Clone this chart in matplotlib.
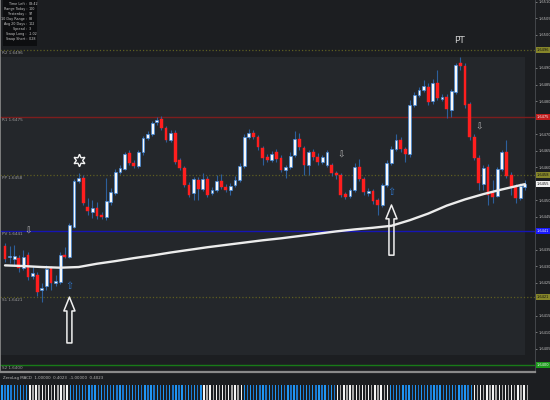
import matplotlib
matplotlib.use('Agg')
import matplotlib.pyplot as plt
import matplotlib.transforms as mtransforms
from matplotlib.patches import Rectangle
import numpy as np

plt.rcParams['font.family'] = ['DejaVu Sans']

# -------------------- 行情数据 (M15 K线) --------------------
OPEN = [1.64361, 1.64327, 1.64321, 1.64324, 1.64294, 1.64333, 1.64270, 1.64273, 1.64227, 1.64239,
        1.64294, 1.64248, 1.64252, 1.64333, 1.64327, 1.64418, 1.64558, 1.64567, 1.64479, 1.64464,
        1.64476, 1.64455, 1.64448, 1.64494, 1.64521, 1.64585, 1.64594, 1.64642, 1.64612, 1.64603,
        1.64645, 1.64688, 1.64700, 1.64736, 1.64745, 1.64718, 1.64682, 1.64703, 1.64621, 1.64597,
        1.64545, 1.64521, 1.64561, 1.64533, 1.64564, 1.64521, 1.64530, 1.64558, 1.64539, 1.64530,
        1.64545, 1.64561, 1.64603, 1.64691, 1.64703, 1.64691, 1.64658, 1.64630, 1.64621, 1.64645,
        1.64627, 1.64591, 1.64600, 1.64636, 1.64685, 1.64658, 1.64606, 1.64645, 1.64630, 1.64615,
        1.64606, 1.64606, 1.64582, 1.64576, 1.64518, 1.64512, 1.64530, 1.64600, 1.64564, 1.64521,
        1.64527, 1.64500, 1.64485, 1.64545, 1.64612, 1.64655, 1.64682, 1.64655, 1.64639, 1.64788,
        1.64818, 1.64833, 1.64842, 1.64800, 1.64855, 1.64806, 1.64812, 1.64773, 1.64827, 1.64915,
        1.64906, 1.64791, 1.64691, 1.64627, 1.64548, 1.64600, 1.64521, 1.64512, 1.64594, 1.64645,
        1.64576, 1.64539, 1.64506, 1.64539]
HIGH = [1.64370, 1.64361, 1.64364, 1.64333, 1.64348, 1.64342, 1.64300, 1.64282, 1.64248, 1.64303,
        1.64300, 1.64273, 1.64342, 1.64358, 1.64430, 1.64564, 1.64582, 1.64576, 1.64506, 1.64500,
        1.64494, 1.64464, 1.64567, 1.64536, 1.64594, 1.64606, 1.64645, 1.64652, 1.64621, 1.64652,
        1.64694, 1.64709, 1.64739, 1.64752, 1.64755, 1.64724, 1.64712, 1.64712, 1.64627, 1.64603,
        1.64555, 1.64570, 1.64570, 1.64582, 1.64573, 1.64539, 1.64576, 1.64579, 1.64548, 1.64552,
        1.64573, 1.64612, 1.64700, 1.64715, 1.64712, 1.64697, 1.64664, 1.64639, 1.64648, 1.64655,
        1.64636, 1.64606, 1.64645, 1.64709, 1.64703, 1.64664, 1.64652, 1.64655, 1.64642, 1.64636,
        1.64652, 1.64612, 1.64588, 1.64582, 1.64524, 1.64536, 1.64612, 1.64624, 1.64570, 1.64536,
        1.64533, 1.64506, 1.64552, 1.64621, 1.64664, 1.64700, 1.64691, 1.64661, 1.64803, 1.64827,
        1.64842, 1.64864, 1.64855, 1.64867, 1.64894, 1.64821, 1.64821, 1.64836, 1.64915, 1.64933,
        1.64915, 1.64797, 1.64700, 1.64636, 1.64606, 1.64609, 1.64561, 1.64600, 1.64652, 1.64682,
        1.64585, 1.64548, 1.64552, 1.64561]
LOW = [1.64312, 1.64309, 1.64300, 1.64282, 1.64288, 1.64258, 1.64261, 1.64209, 1.64191, 1.64227,
       1.64227, 1.64239, 1.64245, 1.64324, 1.64324, 1.64415, 1.64552, 1.64485, 1.64455, 1.64445,
       1.64442, 1.64442, 1.64439, 1.64485, 1.64515, 1.64579, 1.64591, 1.64606, 1.64597, 1.64597,
       1.64636, 1.64682, 1.64694, 1.64727, 1.64712, 1.64676, 1.64676, 1.64609, 1.64591, 1.64539,
       1.64509, 1.64500, 1.64500, 1.64527, 1.64509, 1.64515, 1.64524, 1.64533, 1.64524, 1.64515,
       1.64539, 1.64555, 1.64597, 1.64685, 1.64685, 1.64652, 1.64606, 1.64615, 1.64615, 1.64615,
       1.64585, 1.64567, 1.64594, 1.64630, 1.64652, 1.64576, 1.64576, 1.64621, 1.64606, 1.64609,
       1.64600, 1.64573, 1.64564, 1.64509, 1.64503, 1.64506, 1.64524, 1.64558, 1.64515, 1.64512,
       1.64488, 1.64455, 1.64479, 1.64539, 1.64606, 1.64648, 1.64645, 1.64615, 1.64630, 1.64782,
       1.64812, 1.64827, 1.64788, 1.64791, 1.64803, 1.64800, 1.64748, 1.64752, 1.64821, 1.64894,
       1.64779, 1.64682, 1.64621, 1.64530, 1.64530, 1.64485, 1.64491, 1.64509, 1.64588, 1.64567,
       1.64515, 1.64491, 1.64500, 1.64530]
CLOSE = [1.64321, 1.64330, 1.64330, 1.64294, 1.64327, 1.64267, 1.64279, 1.64221, 1.64233, 1.64291,
         1.64248, 1.64255, 1.64333, 1.64327, 1.64424, 1.64558, 1.64567, 1.64491, 1.64467, 1.64476,
         1.64452, 1.64448, 1.64497, 1.64524, 1.64585, 1.64597, 1.64639, 1.64612, 1.64603, 1.64645,
         1.64688, 1.64700, 1.64733, 1.64742, 1.64718, 1.64682, 1.64703, 1.64615, 1.64597, 1.64545,
         1.64515, 1.64564, 1.64533, 1.64564, 1.64515, 1.64530, 1.64558, 1.64539, 1.64530, 1.64542,
         1.64561, 1.64603, 1.64691, 1.64703, 1.64691, 1.64661, 1.64627, 1.64621, 1.64639, 1.64624,
         1.64591, 1.64600, 1.64633, 1.64685, 1.64661, 1.64606, 1.64645, 1.64630, 1.64615, 1.64630,
         1.64645, 1.64582, 1.64576, 1.64515, 1.64509, 1.64530, 1.64600, 1.64564, 1.64524, 1.64527,
         1.64497, 1.64485, 1.64545, 1.64612, 1.64655, 1.64682, 1.64655, 1.64639, 1.64788, 1.64818,
         1.64833, 1.64845, 1.64797, 1.64855, 1.64809, 1.64812, 1.64776, 1.64830, 1.64909, 1.64906,
         1.64788, 1.64691, 1.64627, 1.64552, 1.64597, 1.64515, 1.64509, 1.64594, 1.64645, 1.64573,
         1.64539, 1.64506, 1.64542, 1.64548]

# 均线 (按K线序号取样)
MA_IDX = [0, 4, 8, 12, 16, 20, 24, 28, 32, 36, 40, 44, 48, 52, 56, 60, 64, 68, 72, 76,
          80, 84, 88, 92, 96, 100, 104, 108, 112, 113]
MA_VAL = [1.64302, 1.64300, 1.64297, 1.64295, 1.64297, 1.64307, 1.64315, 1.64324, 1.64332, 1.64341,
          1.64349, 1.64357, 1.64364, 1.64371, 1.64378, 1.64384, 1.64391, 1.64398, 1.64405, 1.64411,
          1.64416, 1.64422, 1.64439, 1.64459, 1.64483, 1.64502, 1.64518, 1.64532, 1.64545, 1.64548]

# 枢轴位
LEVEL_NAMES = ['R2', 'R1', 'PP', 'PV', 'S1', 'S2']
LEVEL_PRICES = [1.64955, 1.64752, 1.64576, 1.64406, 1.64206, 1.64000]
LEVEL_COLORS = ['#5e5e22', '#7c1d1d', '#5e5e22', '#1515b5', '#5e5e22', '#187a18']
LEVEL_BOX = ['#86862a', '#c21c1c', '#86862a', '#1a1aff', '#86862a', '#1c9a1c']
LEVEL_STYLE = ['dotted', 'solid', 'dotted', 'solid', 'dotted', 'solid']

# 信号
UP_IDX = [14, 84]
UP_SMALL = [1.64239, 1.64524]
UP_TIP = [1.64206, 1.64485]
UP_BASE = [1.64067, 1.64333]
DN_IDX = [5, 73, 103]
DN_PRICE = [1.64406, 1.64636, 1.64721]
STAR_IDX = 16

# 右侧价格刻度
PRICE_TICKS = [1.6400, 1.6405, 1.6410, 1.6415, 1.6420, 1.6425, 1.6430, 1.6435, 1.6440, 1.6445,
               1.6450, 1.6455, 1.6460, 1.6465, 1.6470, 1.6475, 1.6480, 1.6485, 1.6490, 1.6495,
               1.6500, 1.6505, 1.6510]

# 左上角信息框
INFO_LABELS = ['Time Left', 'Range Today', 'Yesterday', '10 Day Range', 'Avg 20 Days',
               'Spread', 'Swap Long', 'Swap Short']
INFO_VALUES = ['08:42', '100', '97', '88', '102', '3', '-1.02', '0.28']

# 底部指标 (连续段)
IND_STATE = ['up', 'dn', 'up', 'dn', 'up', 'dn', 'up', 'dn']
IND_RUNS = [9, 13, 43, 13, 30, 17, 27, 18]

BG = '#1c1e21'
PANEL = '#24272b'
WICK = '#2d5f9c'
FS_AXIS = 2.6

fig = plt.figure(figsize=(5.5, 4), dpi=100, facecolor=BG)
ax = fig.add_axes([0, 0.07, 535 / 550, 0.93])
ax.set_facecolor(BG)
ax.add_patch(Rectangle((0, 17 / 372), 525 / 535, 298 / 372, transform=ax.transAxes,
                       fc=PANEL, ec='none', zorder=0))

o = np.array(OPEN)
h = np.array(HIGH)
l = np.array(LOW)
c = np.array(CLOSE)
x = np.arange(len(o))
bull = c >= o
body_lo = np.minimum(o, c)
body_h = np.maximum(np.abs(c - o), 0.00003)

# 均线
ax.plot(MA_IDX, MA_VAL, color='#ececec', lw=1.7, solid_capstyle='round', zorder=4)

# 水平位
blend = mtransforms.blended_transform_factory(ax.transAxes, ax.transData)
box_prices = list(LEVEL_PRICES) + [c[-1]]
for name, p, col, box, ls in zip(LEVEL_NAMES, LEVEL_PRICES, LEVEL_COLORS, LEVEL_BOX, LEVEL_STYLE):
    ax.axhline(p, color=col, lw=1.0 if ls == 'solid' else 0.9, ls=ls, zorder=1)
    ax.annotate(f'{name} {p:.4f}', xy=(0.004, p), xycoords=blend, xytext=(0, -0.8),
                textcoords='offset points', va='top', ha='left', fontsize=3.0, color='#9c9c9c')
    ax.text(1.004, p, f'{p:.4f}', transform=blend, fontsize=FS_AXIS, va='center', ha='left',
            color='#111111' if box == '#86862a' else '#f0f0f0', clip_on=False, zorder=6,
            bbox=dict(boxstyle='square,pad=0.25', fc=box, ec='none'))

# 当前价
ax.text(1.004, c[-1], f'{c[-1]:.4f}', transform=blend, fontsize=FS_AXIS, va='center', ha='left',
        color='#111111', clip_on=False, zorder=7,
        bbox=dict(boxstyle='square,pad=0.25', fc='#f2f2f2', ec='none'))

# K线
ax.vlines(x, l, h, color=WICK, lw=0.8, zorder=2)
ax.bar(x[bull], body_h[bull], bottom=body_lo[bull], width=0.62, color='#f7f7f7',
       edgecolor='#3f86d9', linewidth=0.5, zorder=3)
ax.bar(x[~bull], body_h[~bull], bottom=body_lo[~bull], width=0.62, color='#ff1e1e',
       edgecolor='#ff1e1e', linewidth=0.3, zorder=3)

# 信号箭头
for i, ps, pt, pb in zip(UP_IDX, UP_SMALL, UP_TIP, UP_BASE):
    ax.text(i, ps, '\u21e7', fontsize=7, color='#2f75c8', ha='center', va='center', zorder=5)
    ax.annotate('', xy=(i, pt), xytext=(i, pb),
                arrowprops=dict(arrowstyle='simple,head_length=1.0,head_width=0.8,tail_width=0.36',
                                fc='none', ec='#f0f0f0', lw=1.1, shrinkA=0, shrinkB=0,
                                mutation_scale=10), zorder=5)
for i, p in zip(DN_IDX, DN_PRICE):
    ax.text(i, p, '\u21e9', fontsize=6.5, color='#b4b4b4', ha='center', va='center', zorder=5)

star_tf = ax.transData + mtransforms.ScaledTranslation(0, 9 / 72, fig.dpi_scale_trans)
ax.plot([STAR_IDX], [h[STAR_IDX]], marker=(6, 1, 0), ms=9, mfc=PANEL, mec='#f2f2f2',
        mew=1.0, transform=star_tf, zorder=5)

pk = int(np.argmax(h))
ax.annotate('PT', xy=(pk, h[pk]), xytext=(-1, 12), textcoords='offset points',
            ha='center', va='center', fontsize=6.5, color='#d2d2d2')

ax.set_xlim(-1.087, 115.2)
ax.set_ylim(1.63979, 1.65106)
ax.set_xticks([])
ax.yaxis.tick_right()
# 被价位框挡住的刻度不写
ticks = [t for t in PRICE_TICKS if min(abs(t - b) for b in box_prices) > 0.00022]
ax.set_yticks(ticks)
ax.set_yticklabels([f'{t:.4f}' for t in ticks])
ax.tick_params(axis='y', labelsize=FS_AXIS, colors='#bdbdbd', length=1.5, width=0.4, pad=0.8)
ax.spines['top'].set_visible(False)
ax.spines['left'].set_color('#8c8c8c')
ax.spines['left'].set_linewidth(1.2)
ax.spines['right'].set_color('#4a4d52')
ax.spines['right'].set_linewidth(0.6)
ax.spines['bottom'].set_color('#8a8a8a')
ax.spines['bottom'].set_linewidth(1.6)

# 信息框
fig.add_artist(Rectangle((3 / 550, 1 - 46 / 400), 34 / 550, 46 / 400, transform=fig.transFigure,
                         fc='#0d0e10', ec='none', zorder=5))
for k, (lab, val) in enumerate(zip(INFO_LABELS, INFO_VALUES)):
    yy = 1 - (4 + 5.0 * k) / 400
    fig.text(27 / 550, yy, lab + ' :', fontsize=2.4, color='#c8c8c8', ha='right', va='center', zorder=6)
    fig.text(28.5 / 550, yy, val, fontsize=2.4, color='#c8c8c8', ha='left', va='center', zorder=6)

# 底部指标
fig.text(3 / 550, 1 - 378 / 400, 'ZeroLag MACD  1.00000  0.4023  -1.00000  0.4023',
         fontsize=2.8, color='#b8b8b8', va='center')
ax2 = fig.add_axes([0, 0, 535 / 550, 15 / 400])
ax2.set_facecolor(BG)
cols = []
for st, n in zip(IND_STATE, IND_RUNS):
    for j in range(n):
        if st == 'up':
            cols.append('#2196f3' if j % 2 == 0 else '#1a78d0')
        else:
            cols.append('#f5f5f5' if j % 2 == 0 else '#a9a9a9')
ax2.bar(np.arange(len(cols)), np.ones(len(cols)), width=0.45, color=cols, bottom=0)
ax2.set_xlim(-0.6, 171.5)
ax2.set_ylim(0, 1)
ax2.axis('off')

fig.savefig('out.png', dpi=100, facecolor=BG)
